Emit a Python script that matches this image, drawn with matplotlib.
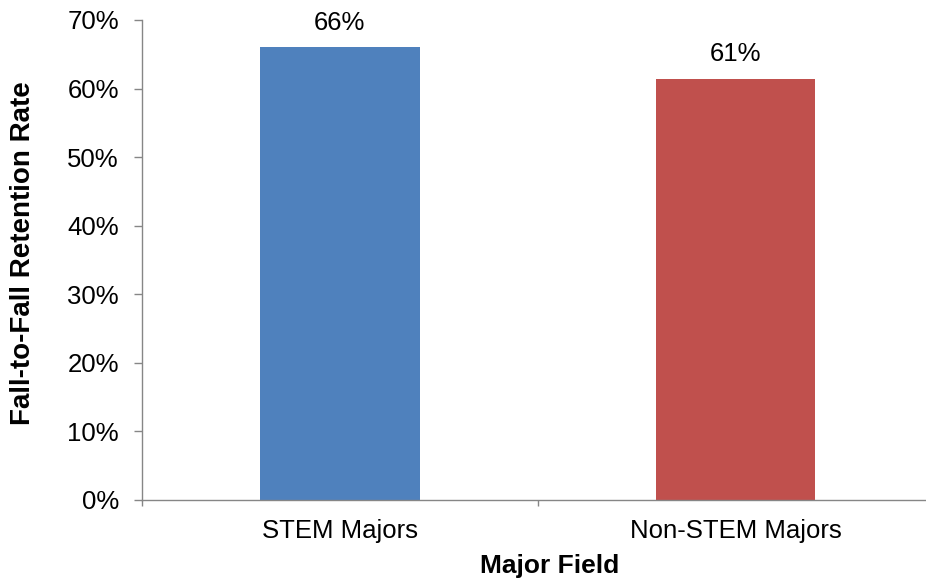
import matplotlib
matplotlib.use("Agg")
import matplotlib.pyplot as plt
from matplotlib.ticker import FixedLocator, PercentFormatter

plt.rcParams['font.family'] = ['Liberation Sans', 'DejaVu Sans']

# data
majors = ["STEM Majors", "Non-STEM Majors"]
retention = [66.0, 61.4]
labels = ["66%", "61%"]
colors = ["#4F81BD", "#C0504D"]

fig = plt.figure(figsize=(9.26, 5.83), dpi=100)
ax = fig.add_axes([0.1533, 0.1424, 0.8546, 0.8233])

pos = list(range(len(majors)))
bars = ax.bar(pos, retention, width=0.404, color=colors)

for b, lab in zip(bars, labels):
    ax.annotate(lab, (b.get_x() + b.get_width() / 2, b.get_height()),
                xytext=(0, 9), textcoords="offset points",
                ha="center", va="bottom", fontsize=18.5)

ax.set_xlim(-0.5, 1.5)
ax.set_ylim(0, 70)
ax.set_yticks(range(0, 71, 10))
ax.yaxis.set_major_formatter(PercentFormatter(decimals=0))

ax.set_xticks(pos)
ax.set_xticklabels(majors)
ax.xaxis.set_minor_locator(FixedLocator([-0.5, 0.5, 1.5]))

spine_col = "#868686"
for s in ["top", "right"]:
    ax.spines[s].set_visible(False)
for s in ["left", "bottom"]:
    ax.spines[s].set_color(spine_col)
    ax.spines[s].set_linewidth(1.0)

ax.tick_params(axis="y", direction="out", length=5.5, width=1.0, color=spine_col,
               labelsize=18.5, pad=11)
ax.tick_params(axis="x", which="major", length=0, labelsize=18.5, pad=14)
ax.tick_params(axis="x", which="minor", direction="out", length=4.5, width=1.0,
               color=spine_col)

ax.set_xlabel("Major Field", fontsize=19, fontweight="bold")
ax.xaxis.set_label_coords(0.5155, -0.1375)
ax.xaxis.label.set_va("center")
ax.set_ylabel("Fall-to-Fall Retention Rate", fontsize=20, fontweight="bold")
ax.yaxis.set_label_coords(-0.150, 0.514)
ax.yaxis.label.set_va("center")

fig.savefig("out.png", dpi=100)
